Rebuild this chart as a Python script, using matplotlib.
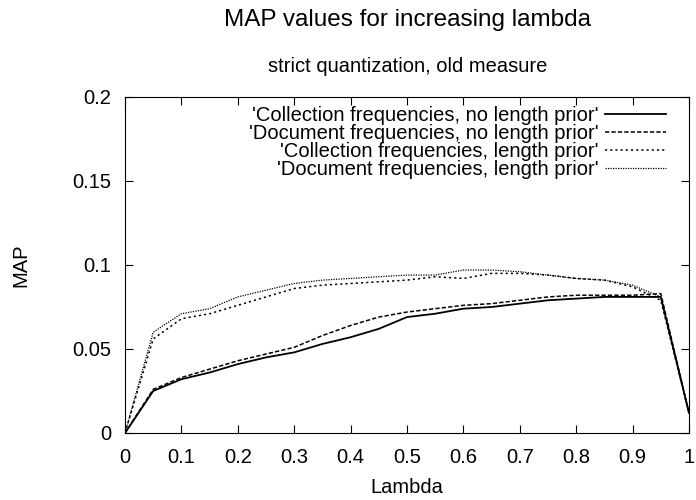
import matplotlib
matplotlib.use("Agg")
import matplotlib.pyplot as plt

plt.rcParams['font.family'] = ['Liberation Sans', 'DejaVu Sans']

# lambda values
lam = [0.0, 0.05, 0.1, 0.15, 0.2, 0.25, 0.3, 0.35, 0.4, 0.45, 0.5,
       0.55, 0.6, 0.65, 0.7, 0.75, 0.8, 0.85, 0.9, 0.95, 1.0]

# MAP per run
cf_no_prior = [0.0, 0.025, 0.032, 0.036, 0.041, 0.045, 0.048, 0.053, 0.057, 0.062, 0.069,
               0.071, 0.074, 0.075, 0.077, 0.079, 0.080, 0.081, 0.081, 0.081, 0.012]
df_no_prior = [0.0, 0.026, 0.033, 0.038, 0.043, 0.047, 0.051, 0.058, 0.064, 0.069, 0.072,
               0.074, 0.076, 0.077, 0.079, 0.081, 0.082, 0.082, 0.082, 0.083, 0.012]
cf_prior = [0.0, 0.056, 0.068, 0.071, 0.076, 0.081, 0.086, 0.088, 0.089, 0.090, 0.091,
            0.093, 0.092, 0.095, 0.095, 0.094, 0.092, 0.091, 0.087, 0.079, 0.012]
df_prior = [0.0, 0.060, 0.071, 0.074, 0.081, 0.085, 0.089, 0.091, 0.092, 0.093, 0.094,
            0.094, 0.097, 0.097, 0.096, 0.094, 0.092, 0.091, 0.088, 0.081, 0.012]

labels = ["'Collection frequencies, no length prior'",
          "'Document frequencies, no length prior'",
          "'Collection frequencies, length prior'",
          "'Document frequencies, length prior'"]

xticks = [0, 0.1, 0.2, 0.3, 0.4, 0.5, 0.6, 0.7, 0.8, 0.9, 1.0]
xticklabels = ['0', '0.1', '0.2', '0.3', '0.4', '0.5', '0.6', '0.7', '0.8', '0.9', '1']
yticks = [0, 0.05, 0.1, 0.15, 0.2]
yticklabels = ['0', '0.05', '0.1', '0.15', '0.2']

fs = 14.5

fig = plt.figure(figsize=(6.96, 5.0), dpi=100)
ax = fig.add_axes([0.1796, 0.134, 0.8103, 0.672])

ax.plot(lam, cf_no_prior, color='black', lw=1.3, linestyle='-', label=labels[0])
ax.plot(lam, df_no_prior, color='black', lw=1.1, linestyle=(0, (2.8, 1.4)), label=labels[1])
ax.plot(lam, cf_prior, color='black', lw=1.1, linestyle=(0, (1.4, 2.0)), label=labels[2])
ax.plot(lam, df_prior, color='black', lw=0.9, linestyle=(0, (1.0, 1.0)), label=labels[3])

ax.set_xlim(0, 1)
ax.set_ylim(0, 0.2)
ax.set_xticks(xticks)
ax.set_xticklabels(xticklabels)
ax.set_yticks(yticks)
ax.set_yticklabels(yticklabels)
ax.tick_params(direction='in', top=True, right=True, labelsize=fs, length=6, width=0.8)
ax.tick_params(axis='x', pad=11)
ax.tick_params(axis='y', pad=10)
for s in ax.spines.values():
    s.set_linewidth(0.8)

ax.set_xlabel('Lambda', fontsize=fs)
ax.set_ylabel('MAP', fontsize=fs)
ax.xaxis.set_label_coords(0.5, -0.135)
ax.yaxis.set_label_coords(-0.167, 0.5)

fig.text(0.586, 0.96, 'MAP values for increasing lambda', ha='center', va='center', fontsize=17.5)
fig.text(0.586, 0.866, 'strict quantization, old measure', ha='center', va='center', fontsize=fs)

leg = ax.legend(loc='upper right', bbox_to_anchor=(0.959, 0.972), frameon=False,
                markerfirst=False, alignment='right', fontsize=fs, handlelength=3.0,
                labelspacing=-0.05, borderaxespad=0.0, borderpad=0.0, handletextpad=0.35)

fig.savefig('out.png', dpi=100)
